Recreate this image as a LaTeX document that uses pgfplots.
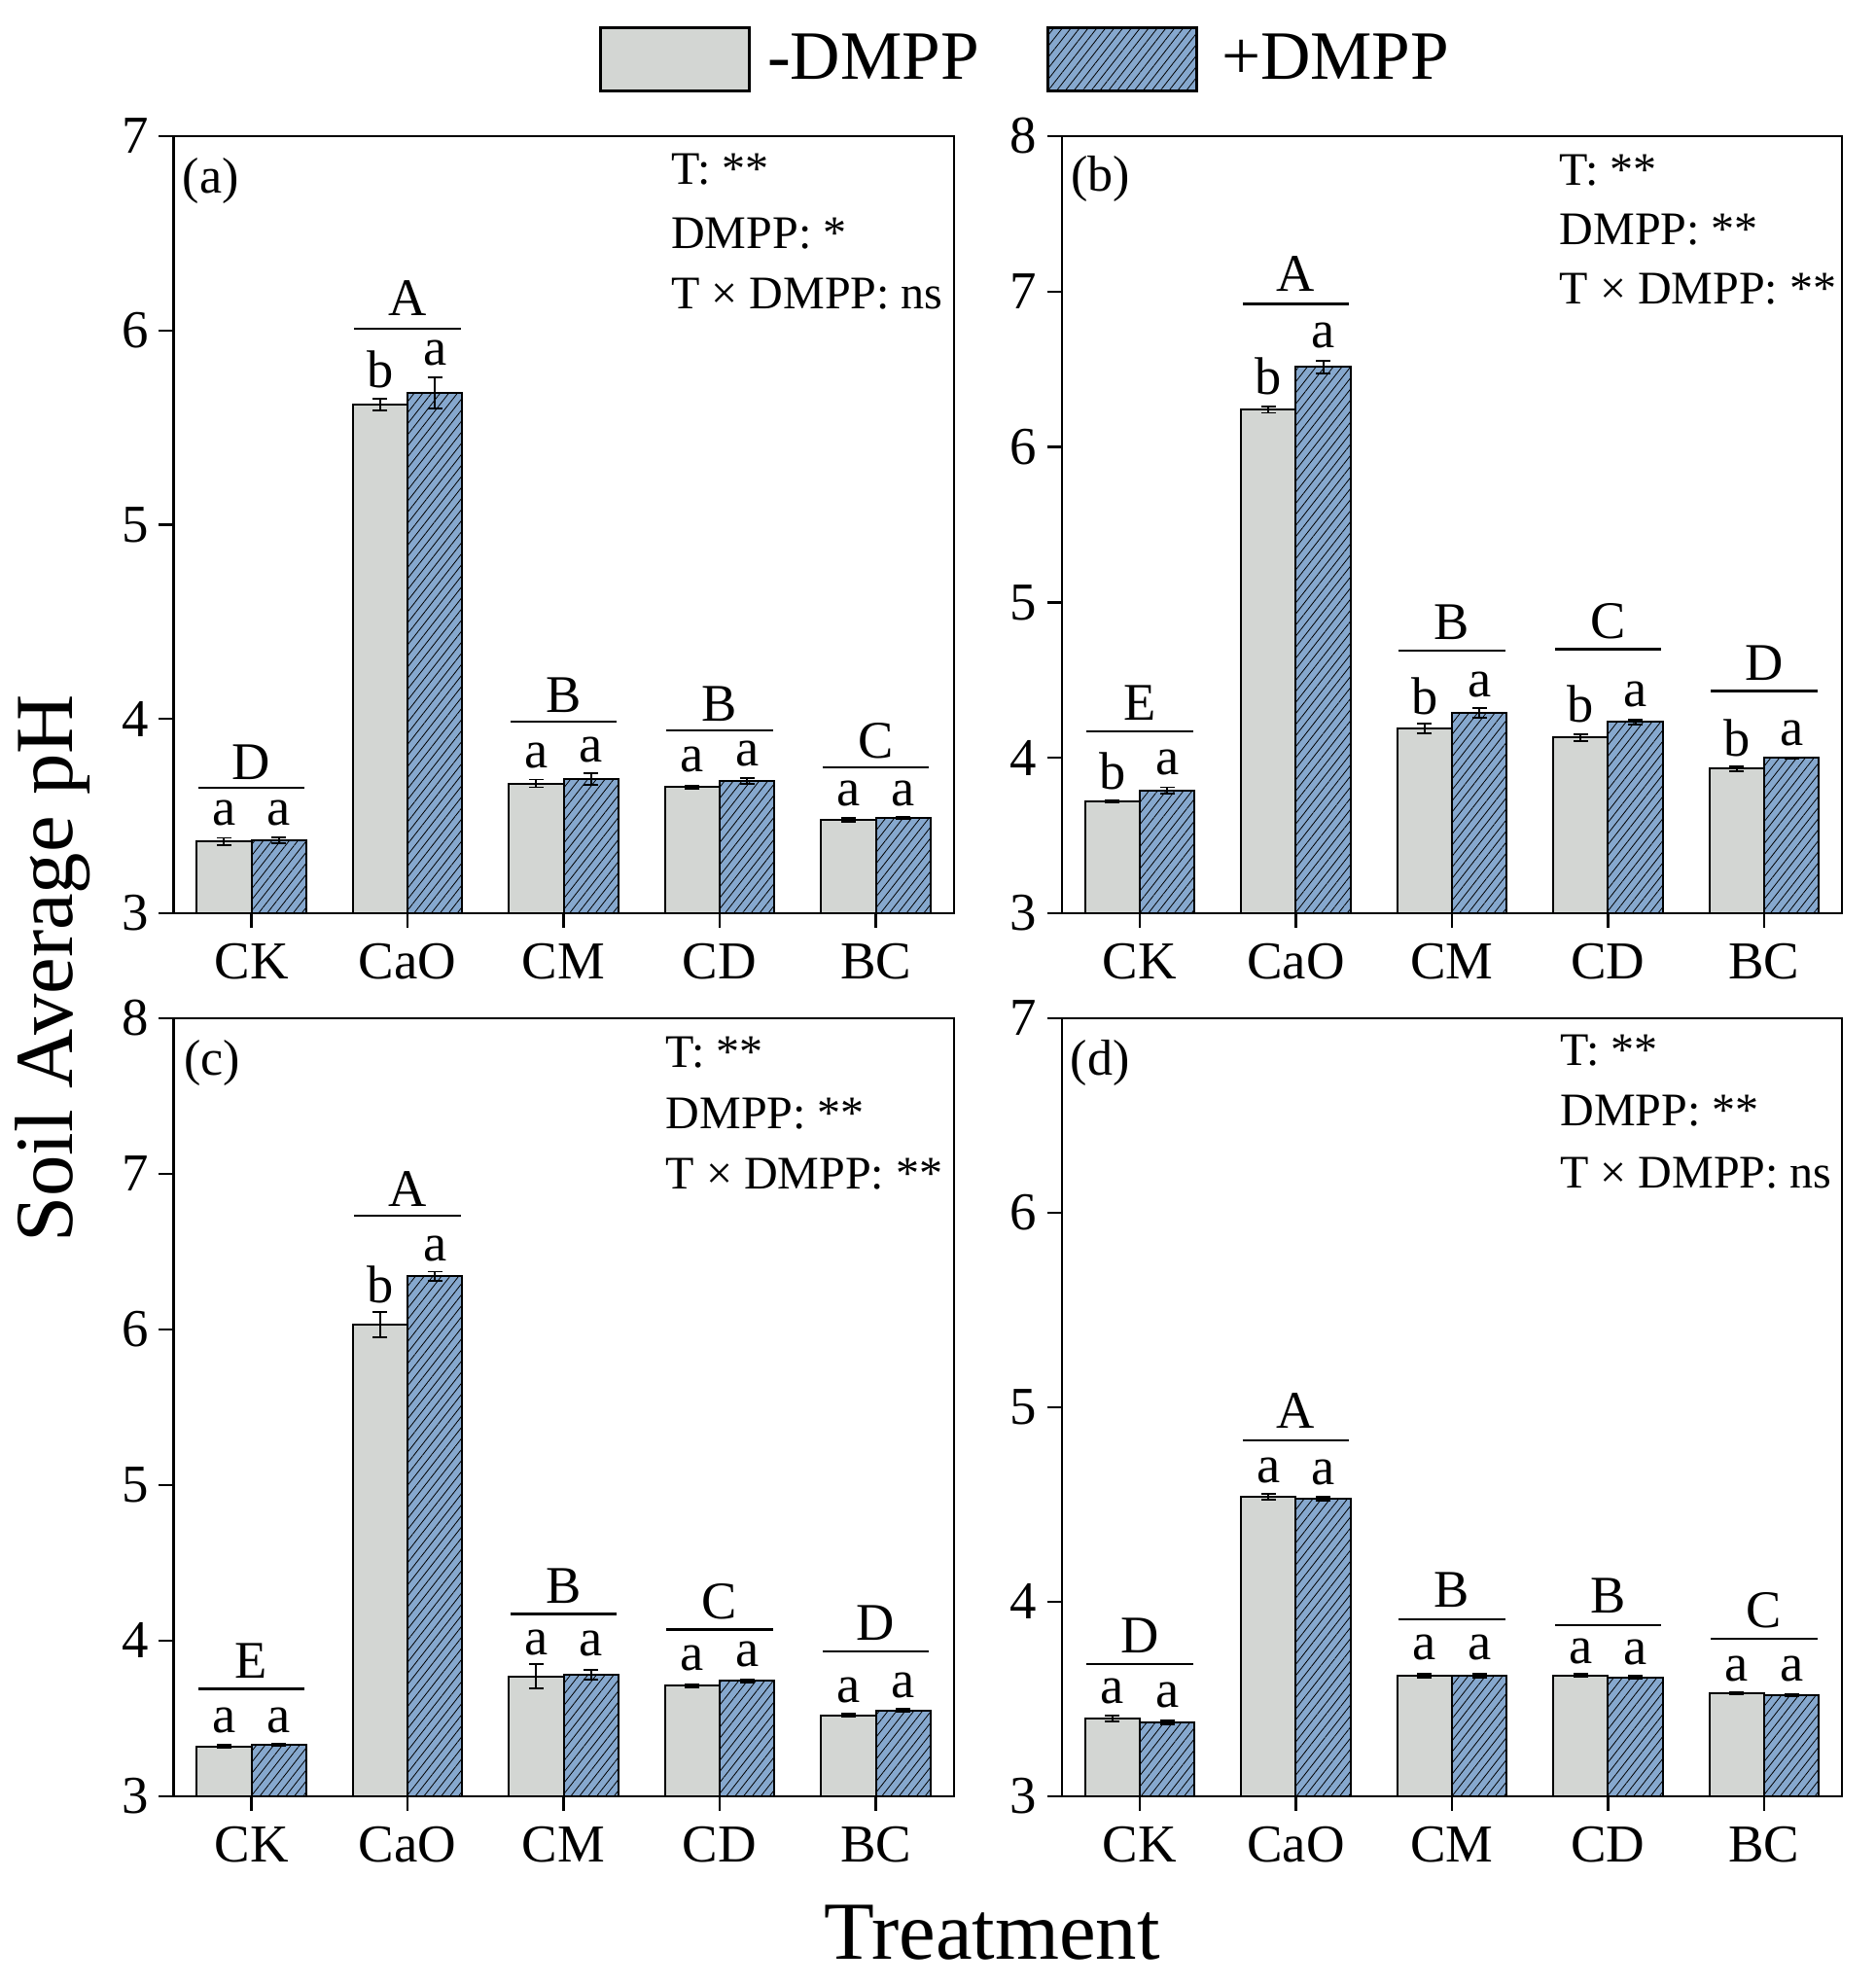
\documentclass[border=0pt]{standalone}
\usepackage{fontspec}
\setmainfont{Liberation Serif}
\usepackage{pgfplots}
\pgfplotsset{compat=1.18}
\usetikzlibrary{patterns.meta}
\definecolor{graybar}{RGB}{211,214,211}
\definecolor{bluebar}{RGB}{134,168,206}
\newcommand{\tkfont}{\fontsize{13.7}{16}\selectfont}
\newcommand{\anfont}{\fontsize{13.6}{16}\selectfont}
\newcommand{\stfont}{\fontsize{12}{14}\selectfont}
\newcommand{\pfont}{\fontsize{13}{15}\selectfont}
\newcommand{\legfont}{\fontsize{17.8}{20}\selectfont}
\newcommand{\labfont}{\fontsize{21.2}{24}\selectfont}
\newcommand{\bl}[5]{%
 \node[anchor=base,inner sep=0pt,font=\anfont,xshift=-7.04pt] at (axis cs:#1,#2) {#3};
 \node[anchor=base,inner sep=0pt,font=\anfont,xshift=7.04pt] at (axis cs:#1,#4) {#5};}
\newcommand{\gl}[4]{%
 \draw[line width=0.6pt] ([xshift=-13.64pt]axis cs:#1,#2) -- ([xshift=13.64pt]axis cs:#1,#2);
 \node[anchor=base,inner sep=0pt,font=\anfont] at (axis cs:#1,#3) {#4};}
\newcommand{\stats}[6]{%
 \node[anchor=base west,inner sep=0pt,font=\stfont] at (axis description cs:#1,#2) {T: **};
 \node[anchor=base west,inner sep=0pt,font=\stfont] at (axis description cs:#1,#3) {DMPP: #5};
 \node[anchor=base west,inner sep=0pt,font=\stfont] at (axis description cs:#1,#4) {T × DMPP: #6};}
\pgfplotsset{
 panel/.style={scale only axis, width=200.625pt, xmin=-0.5, xmax=4.5, ymin=3,
   xtick={0,1,2,3,4}, xticklabels={CK,CaO,CM,CD,BC},
   axis line style={line width=0.6pt}, every tick/.style={black, line width=0.6pt},
   tick align=outside, major tick length=3.75pt, xtick pos=bottom, ytick pos=left,
   ticklabel style={font=\tkfont}, xticklabel style={inner sep=3.8pt}, yticklabel style={inner sep=2.5pt},
   /pgf/number format/assume math mode=true, clip mode=individual},
 barbase/.style={ybar, bar width=0.351, bar shift=0pt, line width=0.5pt, draw=black,
   error bars/y dir=both, error bars/y explicit,
   error bars/error bar style={line width=0.45pt, black, solid},
   error bars/error mark options={rotate=90, black, line width=0.45pt, mark size=1.9pt}},
 minus/.style={barbase, fill=graybar},
 plus/.style={barbase, fill=bluebar,
   postaction={pattern={Lines[angle=52,distance=1.75pt,line width=0.2pt]}, pattern color=black}},
}
\begin{document}
\begin{tikzpicture}
% (a)
\begin{axis}[panel, at={(44.575pt,-234.75pt)}, anchor=south west, height=199.75pt, ymax=7, ytick={3,4,5,6,7},
  legend style={at={(1.095,1.099)}, anchor=center, draw=none, fill=none, legend columns=2, font=\legfont,
    /tikz/every even column/.append style={column sep=15.3pt}, inner sep=0pt}, legend cell align=left]
\addplot[minus, legend image code/.code={\draw[fill=graybar, draw=black, line width=0.7pt] (0pt,-8.1pt) rectangle (38.3pt,8.1pt);}]
 coordinates {(-0.1755,3.37)+-(0,0.018) (0.8245,5.62)+-(0,0.03) (1.8245,3.668)+-(0,0.02) (2.8245,3.65)+-(0,0.008) (3.8245,3.48)+-(0,0.01)};
\addlegendentry{\hspace{2.3pt}-DMPP}
\addplot[plus, legend image code/.code={\fill[bluebar] (0pt,-8.1pt) rectangle (38.3pt,8.1pt);
   \fill[pattern={Lines[angle=62,distance=6.1pt,line width=0.4pt]}, pattern color=black] (0pt,-8.1pt) rectangle (38.3pt,8.1pt);
   \draw[line width=0.7pt] (0pt,-8.1pt) rectangle (38.3pt,8.1pt);}]
 coordinates {(0.1755,3.375)+-(0,0.015) (1.1755,5.68)+-(0,0.08) (2.1755,3.69)+-(0,0.03) (3.1755,3.68)+-(0,0.015) (4.1755,3.49)+-(0,0.006)};
\addlegendentry{\hspace{4pt}+DMPP}
\bl{0}{3.455}{a}{3.455}{a} \gl{0}{3.645}{3.69}{D}
\bl{1}{5.707}{b}{5.82}{a} \gl{1}{6.01}{6.074}{A}
\bl{2}{3.75}{a}{3.78}{a} \gl{2}{3.985}{4.035}{B}
\bl{3}{3.73}{a}{3.76}{a} \gl{3}{3.94}{3.99}{B}
\bl{4}{3.555}{a}{3.555}{a} \gl{4}{3.75}{3.80}{C}
\stats{0.637}{0.938}{0.856}{0.778}{*}{ns}
\node[anchor=base west,inner sep=0pt,font=\pfont] at (axis description cs:0.011,0.927) {(a)};
\end{axis}
% (b)
\begin{axis}[panel, at={(272.925pt,-234.75pt)}, anchor=south west, height=199.75pt, ymax=8, ytick={3,4,5,6,7,8}]
\addplot[minus] coordinates {(-0.1755,3.72)+-(0,0.005) (0.8245,6.24)+-(0,0.02) (1.8245,4.19)+-(0,0.03) (2.8245,4.13)+-(0,0.02) (3.8245,3.93)+-(0,0.015)};
\addplot[plus] coordinates {(0.1755,3.79)+-(0,0.02) (1.1755,6.515)+-(0,0.04) (2.1755,4.29)+-(0,0.03) (3.1755,4.23)+-(0,0.015) (4.1755,4.00)+-(0,0.005)};
\bl{0}{3.80}{b}{3.89}{a} \gl{0}{4.17}{4.24}{E}
\bl{1}{6.34}{b}{6.64}{a} \gl{1}{6.92}{7.0}{A}
\bl{2}{4.28}{b}{4.39}{a} \gl{2}{4.69}{4.76}{B}
\bl{3}{4.23}{b}{4.33}{a} \gl{3}{4.70}{4.77}{C}
\bl{4}{4.01}{b}{4.08}{a} \gl{4}{4.43}{4.50}{D}
\stats{0.637}{0.937}{0.861}{0.784}{**}{**}
\node[anchor=base west,inner sep=0pt,font=\pfont] at (axis description cs:0.011,0.929) {(b)};
\end{axis}
% (c)
\begin{axis}[panel, at={(44.575pt,-461.675pt)}, anchor=south west, height=200pt, ymax=8, ytick={3,4,5,6,7,8}]
\addplot[minus] coordinates {(-0.1755,3.32)+-(0,0.01) (0.8245,6.03)+-(0,0.08) (1.8245,3.77)+-(0,0.08) (2.8245,3.71)+-(0,0.01) (3.8245,3.52)+-(0,0.008)};
\addplot[plus] coordinates {(0.1755,3.33)+-(0,0.008) (1.1755,6.34)+-(0,0.03) (2.1755,3.78)+-(0,0.03) (3.1755,3.74)+-(0,0.008) (4.1755,3.55)+-(0,0.01)};
\bl{0}{3.41}{a}{3.41}{a} \gl{0}{3.69}{3.76}{E}
\bl{1}{6.17}{b}{6.44}{a} \gl{1}{6.73}{6.79}{A}
\bl{2}{3.91}{a}{3.90}{a} \gl{2}{4.17}{4.24}{B}
\bl{3}{3.81}{a}{3.83}{a} \gl{3}{4.07}{4.14}{C}
\bl{4}{3.60}{a}{3.63}{a} \gl{4}{3.93}{4.00}{D}
\stats{0.630}{0.936}{0.858}{0.780}{**}{**}
\node[anchor=base west,inner sep=0pt,font=\pfont] at (axis description cs:0.013,0.927) {(c)};
\end{axis}
% (d)
\begin{axis}[panel, at={(272.925pt,-461.675pt)}, anchor=south west, height=200pt, ymax=7, ytick={3,4,5,6,7}]
\addplot[minus] coordinates {(-0.1755,3.40)+-(0,0.015) (0.8245,4.54)+-(0,0.015) (1.8245,3.62)+-(0,0.01) (2.8245,3.62)+-(0,0.008) (3.8245,3.53)+-(0,0.006)};
\addplot[plus] coordinates {(0.1755,3.38)+-(0,0.01) (1.1755,4.53)+-(0,0.01) (2.1755,3.62)+-(0,0.01) (3.1755,3.61)+-(0,0.008) (4.1755,3.52)+-(0,0.006)};
\bl{0}{3.475}{a}{3.455}{a} \gl{0}{3.68}{3.735}{D}
\bl{1}{4.61}{a}{4.60}{a} \gl{1}{4.83}{4.89}{A}
\bl{2}{3.70}{a}{3.70}{a} \gl{2}{3.91}{3.97}{B}
\bl{3}{3.68}{a}{3.675}{a} \gl{3}{3.88}{3.94}{B}
\bl{4}{3.59}{a}{3.59}{a} \gl{4}{3.81}{3.865}{C}
\stats{0.638}{0.939}{0.861}{0.781}{**}{ns}
\node[anchor=base west,inner sep=0pt,font=\pfont] at (axis description cs:0.0103,0.927) {(d)};
\end{axis}
\node[rotate=90, font=\labfont, inner sep=0pt, anchor=center] at (13.5pt,-249pt) {Soil Average pH};
\node[font=\labfont, anchor=base, inner sep=0pt] at (255pt,-503.5pt) {Treatment};
\pgfresetboundingbox
\useasboundingbox (0,0) rectangle (482pt,-510.25pt);
\end{tikzpicture}
\end{document}
